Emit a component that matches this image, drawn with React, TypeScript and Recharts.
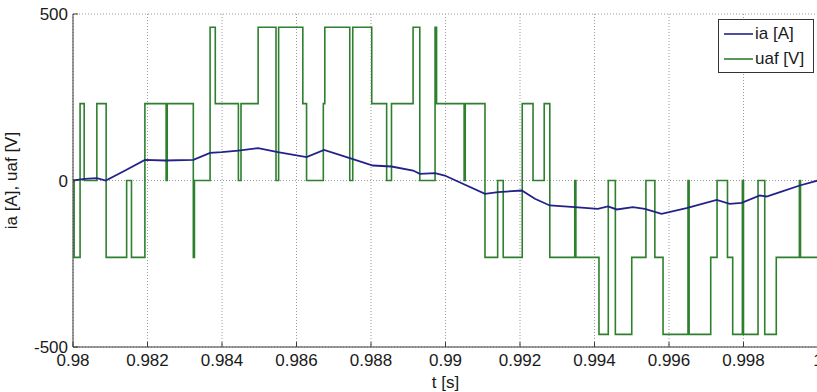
import { LineChart, Line, XAxis, YAxis, CartesianGrid, Legend } from 'recharts';

// uaf [V] - inverter voltage, switching instants and level held after each one
const uafTimes = [
    0.98, 0.98003, 0.98019, 0.9803, 0.98064, 0.98089, 0.98144, 0.98157, 0.98193, 0.9825,
    0.98253, 0.98323, 0.98326, 0.98368, 0.98382, 0.98444, 0.98451, 0.98497, 0.98545, 0.98552,
    0.98617, 0.98627, 0.98672, 0.98676, 0.98743, 0.98751, 0.98802, 0.98842, 0.98855, 0.98913,
    0.98931, 0.98972, 0.98976, 0.9905, 0.99053, 0.99106, 0.9914, 0.99155, 0.99206, 0.99235,
    0.99265, 0.9928, 0.99347, 0.9935, 0.99412, 0.99437, 0.99456, 0.995, 0.99538, 0.99562,
    0.99584, 0.99651, 0.99654, 0.99712, 0.99729, 0.99757, 0.99771, 0.99797, 0.998, 0.99839,
    0.99857, 0.99888, 0.9995, 0.99953, 1.0,
];
const uafVolts = [
    0, -231, 231, 0, 231, -231, 0, -231, 231, 0,
    231, -231, 0, 460, 231, 0, 231, 460, 0, 460,
    231, 0, 231, 460, 0, 460, 231, 0, 231, 460,
    0, 460, 231, 0, 231, -231, 0, -231, 231, 0,
    231, -231, 0, -231, -462, 0, -462, -231, 0, -231,
    -462, 0, -462, -231, 0, -231, -462, 0, -462, 0,
    -462, -231, 0, -231, -231,
];

// ia [A] - phase current
const iaTimes = [
    0.98, 0.98032, 0.98064, 0.98088, 0.9814, 0.98193, 0.98247, 0.98323, 0.98368, 0.98399,
    0.98444, 0.98497, 0.9855, 0.98627, 0.98674, 0.98743, 0.98805, 0.98855, 0.98913, 0.98931,
    0.98972, 0.98998, 0.99106, 0.99141, 0.99205, 0.9924, 0.9928, 0.99347, 0.99409, 0.99436,
    0.9946, 0.99503, 0.99535, 0.9958, 0.99647, 0.99728, 0.99763, 0.99795, 0.99844, 0.99862,
    0.99898, 0.99951, 1.0,
];
const iaAmps = [
    0, 5, 7, 0, 30, 62, 60, 62, 83, 85,
    90, 97, 85, 70, 92, 67, 45, 42, 30, 20,
    22, 15, -40, -35, -30, -55, -75, -80, -85, -78,
    -87, -80, -85, -100, -83, -58, -70, -67, -45, -48,
    -35, -15, 0,
];

const xTicks = [0.98, 0.982, 0.984, 0.986, 0.988, 0.99, 0.992, 0.994, 0.996, 0.998, 1];
const yTicks = [-500, 0, 500];
const legendOrder = ['ia [A]', 'uaf [V]'];

const uafData = uafTimes.map((t, i) => ({ t, v: uafVolts[i] }));
const iaData = iaTimes.map((t, i) => ({ t, v: iaAmps[i] }));

const BLUE = '#22228a';
const GREEN = '#2e7f2e';
const AXIS = '#3a3a3a';
const FONT = { fontSize: 17, fill: '#1a1a1a' };

function LegendBox({ payload }: any) {
    // matlab legend lists ia first
    const items = [...(payload ?? [])].sort((a: any, b: any) => legendOrder.indexOf(a.value) - legendOrder.indexOf(b.value));
    return (
        <div style={{ border: '1px solid #333', background: '#fff', padding: '1px 6px 1px 5px', width: 83 }}>
            {items.map((it: any) => (
                <div key={it.value} style={{ display: 'flex', alignItems: 'center', height: 25 }}>
                    <svg width={29} height={4}>
                        <line x1={0} y1={2} x2={29} y2={2} stroke={it.color} strokeWidth={1.6} />
                    </svg>
                    <span style={{ marginLeft: 2, fontSize: 17, color: '#1a1a1a', whiteSpace: 'nowrap' }}>{it.value}</span>
                </div>
            ))}
        </div>
    );
}

export default function App() {
    return (
        <div style={{ position: 'absolute', left: 0, top: 0, width: 817, height: 392, overflow: 'hidden', background: '#fff', fontFamily: '"Liberation Sans", Arial, sans-serif' }}>
            <LineChart width={830} height={392} margin={{ top: 14, right: 12, bottom: 0, left: 0 }}>
                <CartesianGrid stroke="#9a9a9a" strokeDasharray="1 2" />
                <XAxis
                    dataKey="t"
                    type="number"
                    domain={[0.98, 1]}
                    ticks={xTicks}
                    allowDataOverflow
                    height={45}
                    tickSize={-5}
                    tickMargin={12}
                    tick={FONT}
                    tickFormatter={(v: number) => String(v)}
                    stroke={AXIS}
                    label={{ value: 't [s]', position: 'insideBottom', offset: 4, style: { fontSize: 17, fill: '#1a1a1a' } }}
                />
                <XAxis
                    xAxisId="top"
                    orientation="top"
                    dataKey="t"
                    type="number"
                    domain={[0.98, 1]}
                    ticks={xTicks}
                    allowDataOverflow
                    height={0}
                    tickSize={-5}
                    tick={false}
                    stroke={AXIS}
                />
                <YAxis
                    type="number"
                    domain={[-500, 500]}
                    ticks={yTicks}
                    allowDataOverflow
                    width={73}
                    tickSize={-5}
                    tickMargin={10}
                    tick={FONT}
                    stroke={AXIS}
                    label={{
                        content: ({ viewBox }: any) => {
                            const cx = viewBox.x + 11;
                            const cy = viewBox.y + viewBox.height / 2;
                            return (
                                <text x={cx} y={cy} transform={`rotate(-90, ${cx}, ${cy})`} textAnchor="middle" dominantBaseline="central" fontSize={17} fill="#1a1a1a">
                                    ia [A], uaf [V]
                                </text>
                            );
                        },
                    }}
                />
                <Legend
                    layout="horizontal"
                    verticalAlign="middle"
                    align="center"
                    content={<LegendBox />}
                    wrapperStyle={{ left: 718, top: 19 }}
                />
                <Line data={uafData} dataKey="v" name="uaf [V]" type="stepAfter" stroke={GREEN} strokeWidth={1.6} dot={false} isAnimationActive={false} />
                <Line data={iaData} dataKey="v" name="ia [A]" type="linear" stroke={BLUE} strokeWidth={1.8} dot={false} isAnimationActive={false} />
            </LineChart>
        </div>
    );
}
